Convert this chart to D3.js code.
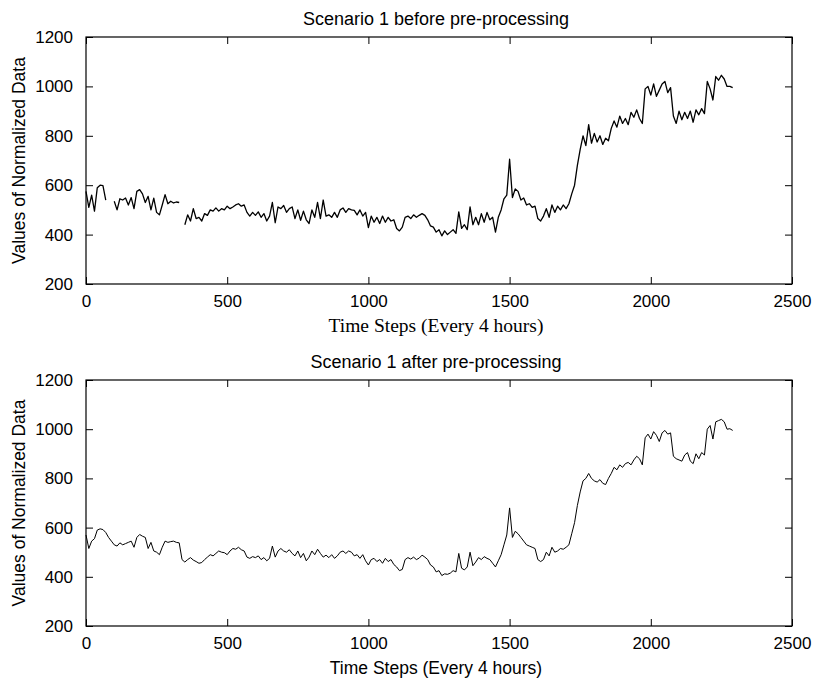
<!DOCTYPE html>
<html>
<head>
<meta charset="utf-8">
<script src="https://cdn.jsdelivr.net/npm/d3@7"></script>
<style>
  body { margin: 0; background: #fff; }
  svg { display: block; }
</style>
</head>
<body>
<svg id="chart" width="813" height="680"></svg>
<script>
const steps = d3.range(0, 2291, 10);

const beforeValues = [
  575,510,560,495,590,600,598,540,null,null,
  535,500,545,540,548,520,550,505,575,582,
  565,530,555,500,548,490,480,520,562,525,
  535,528,532,530,null,440,480,455,505,465,
  470,455,485,478,500,495,508,495,505,500,
  515,505,512,520,525,515,520,490,475,490,
  478,492,470,485,455,475,530,448,512,505,
  518,490,505,512,465,500,458,495,460,445,
  500,470,530,465,540,475,480,470,490,470,
  500,508,490,505,500,498,480,500,475,490,
  428,475,450,470,445,475,450,470,455,460,
  425,415,430,470,475,465,480,470,478,485,
  478,460,435,430,410,420,395,415,400,410,
  420,405,492,425,440,420,512,440,470,440,
  485,450,490,460,470,410,470,500,545,560,
  705,550,585,575,540,548,520,525,510,515,
  465,455,475,505,470,520,490,515,500,520,
  505,525,565,600,680,745,800,760,845,770,
  810,775,800,765,790,780,830,860,835,880,
  850,870,845,895,875,905,870,850,990,1000,
  965,1010,960,985,1010,1020,975,995,880,850,
  900,865,895,870,900,855,905,885,910,890,
  1020,990,945,1040,1025,1045,1030,1000,1000,995
];

const afterValues = [
  570,515,545,555,590,595,592,580,560,545,
  530,525,538,530,535,540,545,520,560,572,
  565,560,515,540,505,500,490,520,545,540,
  543,545,540,538,470,460,470,478,468,462,
  455,458,470,480,490,485,495,505,500,498,
  490,505,515,512,520,510,505,480,475,482,
  478,485,470,478,465,475,525,480,505,515,
  505,500,510,495,485,505,478,495,465,480,
  505,490,512,495,480,488,478,490,475,485,
  500,505,495,505,500,485,490,475,490,465,
  448,470,475,462,470,455,475,462,470,450,
  440,425,430,470,478,472,480,470,476,488,
  480,470,448,440,420,425,405,412,410,415,
  425,420,495,435,428,440,500,445,460,478,
  470,482,475,470,455,440,465,490,530,570,
  680,560,585,575,560,545,530,525,520,515,
  470,462,470,500,485,520,500,505,515,512,
  520,530,575,620,690,745,790,800,820,800,
  790,785,795,780,775,800,820,845,835,855,
  845,860,865,855,875,890,880,855,965,980,
  960,990,975,950,985,995,980,985,890,880,
  875,870,895,905,870,860,900,880,905,895,
  1000,1015,960,1030,1035,1040,1030,1000,1002,995
];

const xTicks = [0, 500, 1000, 1500, 2000, 2500];
const yTicks = [200, 400, 600, 800, 1000, 1200];

const panels = [
  { title: "Scenario 1 before pre-processing", values: beforeValues, lineWidth: 1.3,
    top: 37, bottom: 284, xLabelFont: "'Liberation Serif', 'Times New Roman', serif", xLabelSize: 19.5 },
  { title: "Scenario 1 after pre-processing", values: afterValues, lineWidth: 1,
    top: 380, bottom: 626, xLabelFont: "'Liberation Sans', Arial, sans-serif", xLabelSize: 17.5 }
];

const xLabelText = "Time Steps (Every 4 hours)";
const yLabelText = "Values of Normalized Data";

const svg = d3.select("#chart");
const sans = "'Liberation Sans', Arial, sans-serif";
const left = 86, right = 792;
const tickLen = 7;

panels.forEach(p => {
  const x = d3.scaleLinear().domain([0, 2500]).range([left, right]);
  const y = d3.scaleLinear().domain([200, 1200]).range([p.bottom, p.top]);
  const g = svg.append("g");

  const data = steps.map((s, i) => ({ s, v: p.values[i] }));
  g.append("path")
    .datum(data)
    .attr("fill", "none")
    .attr("stroke", "#000")
    .attr("stroke-width", p.lineWidth)
    .attr("stroke-linejoin", "round")
    .attr("d", d3.line()
      .defined(d => d.v !== null)
      .x(d => x(d.s))
      .y(d => y(d.v)));

  const axB = g.append("g").attr("transform", `translate(0,${p.bottom})`)
    .call(d3.axisBottom(x).tickValues(xTicks).tickSizeInner(-tickLen).tickSizeOuter(0).tickPadding(tickLen + 4).tickFormat(d3.format("d")));
  const axT = g.append("g").attr("transform", `translate(0,${p.top})`)
    .call(d3.axisTop(x).tickValues(xTicks).tickSizeInner(-tickLen).tickSizeOuter(0).tickFormat(""));
  const axL = g.append("g").attr("transform", `translate(${left},0)`)
    .call(d3.axisLeft(y).tickValues(yTicks).tickSizeInner(-tickLen).tickSizeOuter(0).tickPadding(tickLen + 6).tickFormat(d3.format("d")));
  const axR = g.append("g").attr("transform", `translate(${right},0)`)
    .call(d3.axisRight(y).tickValues(yTicks).tickSizeInner(-tickLen).tickSizeOuter(0).tickFormat(""));

  [axB, axT, axL, axR].forEach(a => {
    a.select(".domain").remove();
    a.selectAll("line").attr("stroke", "#000").attr("stroke-width", 1);
    a.selectAll("text").attr("fill", "#000").style("font-family", sans).style("font-size", "17px");
  });
  axB.selectAll("text").attr("dy", "0.71em");

  g.append("rect")
    .attr("x", left).attr("y", p.top)
    .attr("width", right - left).attr("height", p.bottom - p.top)
    .attr("fill", "none").attr("stroke", "#000").attr("stroke-width", 1.2);

  g.append("text")
    .attr("x", (left + right) / 2 - 3).attr("y", p.top - 12)
    .attr("text-anchor", "middle")
    .style("font-family", sans).style("font-size", "18px")
    .text(p.title);

  g.append("text")
    .attr("x", (left + right) / 2 - 3).attr("y", p.bottom + 48)
    .attr("text-anchor", "middle")
    .style("font-family", p.xLabelFont).style("font-size", p.xLabelSize + "px")
    .text(xLabelText);

  g.append("text")
    .attr("transform", `translate(25,${(p.top + p.bottom) / 2}) rotate(-90)`)
    .attr("text-anchor", "middle")
    .style("font-family", sans).style("font-size", "17.5px")
    .text(yLabelText);
});
</script>
</body>
</html>
